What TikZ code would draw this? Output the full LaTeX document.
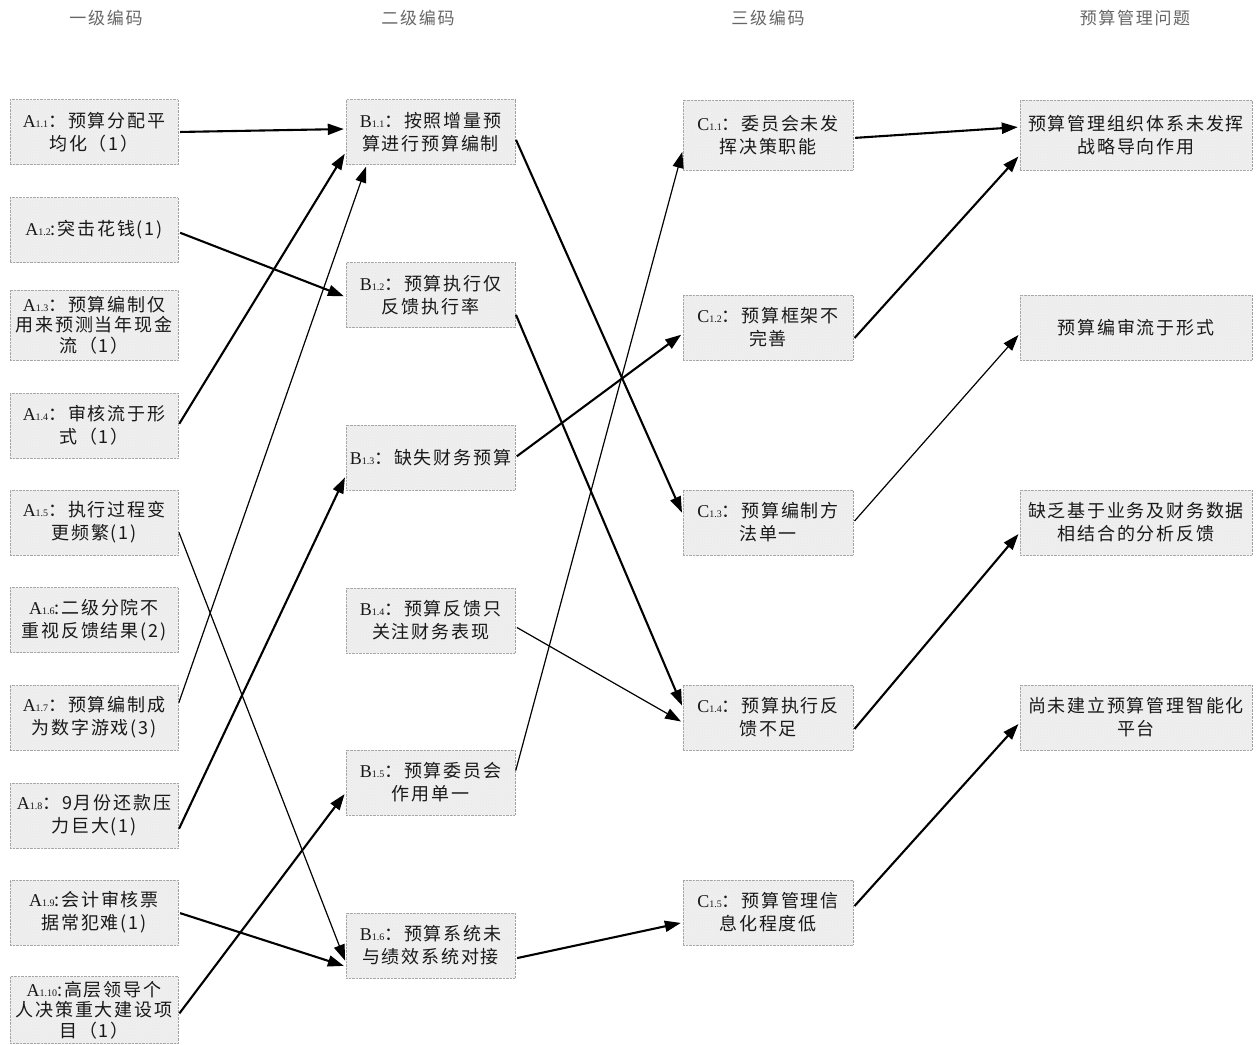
\documentclass[tikz,border=0pt]{standalone}
\usepackage{fontspec}
\setmainfont{Noto Sans CJK SC}[LetterSpace=10]
\newfontfamily\latinfont{Liberation Serif}
\usetikzlibrary{arrows.meta,calc,patterns}

% code label: letter with small index
\newcommand{\kcode}[2]{{\latinfont #1\fontsize{10}{10}\selectfont #2}}

\tikzset{
    box/.style={draw=gray!75, densely dotted, fill=gray!9,
        postaction={pattern=north east lines, pattern color=gray!30},
        postaction={pattern=north west lines, pattern color=gray!30},
        inner sep=0pt, align=center, text=black!90,
        font=\fontsize{18}{23}\selectfont},
    abox/.style={box, minimum width=168pt, minimum height=65pt},
    bbox/.style={box, minimum width=169pt, minimum height=65pt},
    cbox/.style={box, minimum width=170pt, minimum height=65pt},
    dbox/.style={box, minimum width=232pt, minimum height=65pt},
    head/.style={font=\fontsize{17}{17}\selectfont, text=black!60},
    bigarr/.style={-{Triangle[length=16pt,width=11pt]}, line width=2.1pt, shorten <=2pt, shorten >=2pt},
    slimarr/.style={-{Triangle[length=16pt,width=11pt]}, line width=1.2pt, shorten <=2pt, shorten >=2pt}
}

\begin{document}
\begin{tikzpicture}[x=1pt, y=-1pt]
    \useasboundingbox (0,0) rectangle (1258,1044);

    \def\colA{94}    % x centre of first column
    \def\colB{430.5} % second column
    \def\colC{768}   % third column
    \def\colD{1136}  % problem column

    % Headers
    \node[head] (hA) at (106, 18) {一级编码};
    \node[head] (hB) at (418, 18) {二级编码};
    \node[head] (hC) at (768, 18) {三级编码};
    \node[head] (hD) at (1135, 18) {预算管理问题};

    % First level codes
    \node[abox] (a1) at (\colA, 132) {\kcode{A}{1.1}：预算分配平\\均化（1）};
    \node[abox] (a2) at (\colA, 230) {\kcode{A}{1.2}:突击花钱(1)};
    \node[abox, minimum height=70pt, font=\fontsize{18}{20.5}\selectfont] (a3) at (\colA, 325) {\kcode{A}{1.3}：预算编制仅\\用来预测当年现金\\流（1）};
    \node[abox] (a4) at (\colA, 425.5) {\kcode{A}{1.4}：审核流于形\\式（1）};
    \node[abox] (a5) at (\colA, 522.5) {\kcode{A}{1.5}：执行过程变\\更频繁(1)};
    \node[abox] (a6) at (\colA, 620) {\kcode{A}{1.6}:二级分院不\\重视反馈结果(2)};
    \node[abox] (a7) at (\colA, 717.5) {\kcode{A}{1.7}：预算编制成\\为数字游戏(3)};
    \node[abox] (a8) at (\colA, 815.5) {\kcode{A}{1.8}：9月份还款压\\力巨大(1)};
    \node[abox] (a9) at (\colA, 912.5) {\kcode{A}{1.9}:会计审核票\\据常犯难(1)};
    \node[abox, minimum height=67pt, font=\fontsize{18}{20.5}\selectfont] (a10) at (\colA, 1010) {\kcode{A}{1.10}:高层领导个\\人决策重大建设项\\目（1）};

    % Second level codes
    \node[bbox] (b1) at (\colB, 132) {\kcode{B}{1.1}：按照增量预\\算进行预算编制};
    \node[bbox] (b2) at (\colB, 295) {\kcode{B}{1.2}：预算执行仅\\反馈执行率};
    \node[bbox] (b3) at (\colB, 457.5) {\kcode{B}{1.3}：缺失财务预算};
    \node[bbox] (b4) at (\colB, 620.5) {\kcode{B}{1.4}：预算反馈只\\关注财务表现};
    \node[bbox] (b5) at (\colB, 782.5) {\kcode{B}{1.5}：预算委员会\\作用单一};
    \node[bbox] (b6) at (\colB, 945.5) {\kcode{B}{1.6}：预算系统未\\与绩效系统对接};

    % Third level codes
    \node[cbox, minimum height=70pt] (c1) at (\colC, 135) {\kcode{C}{1.1}：委员会未发\\挥决策职能};
    \node[cbox] (c2) at (\colC, 327.5) {\kcode{C}{1.2}：预算框架不\\完善};
    \node[cbox] (c3) at (\colC, 522.5) {\kcode{C}{1.3}：预算编制方\\法单一};
    \node[cbox] (c4) at (\colC, 717.5) {\kcode{C}{1.4}：预算执行反\\馈不足};
    \node[cbox] (c5) at (\colC, 912.5) {\kcode{C}{1.5}：预算管理信\\息化程度低};

    % Problems
    \node[dbox, minimum height=70pt] (d1) at (\colD, 135) {预算管理组织体系未发挥\\战略导向作用};
    \node[dbox] (d2) at (\colD, 327.5) {预算编审流于形式};
    \node[dbox] (d3) at (\colD, 522.5) {缺乏基于业务及财务数据\\相结合的分析反馈};
    \node[dbox] (d4) at (\colD, 717.5) {尚未建立预算管理智能化\\平台};

    % First -> second
    \draw[bigarr] (a1.east) -- ($(b1.west)+(0,-3)$);
    \draw[bigarr] ($(a2.east)+(0,2)$) -- ($(b2.west)+(0,2)$);
    \draw[bigarr] (a4.east) -- ($(b1.west)+(0,20)$);
    \draw[slimarr] ($(a5.east)+(0,8)$) -- ($(b6.west)+(0,17)$);
    \draw[slimarr] ($(a7.east)+(0,-13)$) -- ($(b1.south west)+(21,0)$);
    \draw[bigarr] ($(a8.east)+(0,15)$) -- ($(b3.west)+(0,18)$);
    \draw[bigarr] (a9.east) -- ($(b6.west)+(0,21)$);
    \draw[bigarr] ($(a10.east)+(0,5)$) -- ($(b5.west)+(0,10)$);

    % Second -> third
    \draw[bigarr] ($(b1.east)+(0,6)$) -- ($(c3.west)+(0,-8)$);
    \draw[bigarr] ($(b2.east)+(0,18)$) -- ($(c4.west)+(0,-10)$);
    \draw[bigarr] (b3.east) -- ($(c2.west)+(0,6)$);
    \draw[slimarr] ($(b4.east)+(0,6)$) -- ($(c4.west)+(0,5)$);
    \draw[slimarr] ($(b5.east)+(0,-10)$) -- ($(c1.west)+(0,15)$);
    \draw[bigarr] ($(b6.east)+(0,13)$) -- ($(c5.west)+(0,10)$);

    % Third -> problems
    \draw[bigarr] ($(c1.east)+(0,3)$) -- ($(d1.west)+(0,-8)$);
    \draw[bigarr] ($(c2.east)+(0,12)$) -- ($(d1.west)+(0,20)$);
    \draw[slimarr] (c3.east) -- ($(d2.west)+(0,6)$);
    \draw[bigarr] ($(c4.east)+(0,13)$) -- ($(d3.west)+(0,10)$);
    \draw[bigarr] ($(c5.east)+(0,-5)$) -- ($(d4.west)+(0,5)$);

\end{tikzpicture}
\end{document}
